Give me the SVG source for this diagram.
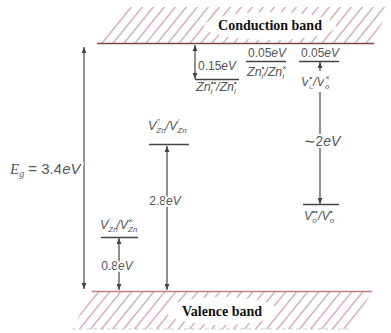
<svg xmlns="http://www.w3.org/2000/svg" width="391" height="333" viewBox="0 0 391 333">
<style>
.lvl{stroke:#444;stroke-width:1.3;fill:none}
.arr{stroke:#444;stroke-width:1.2;fill:none}
.lab{font-family:'Liberation Sans',sans-serif;font-size:12px;fill:#555}
.chem{font-family:'Liberation Sans',sans-serif;font-size:12.5px;fill:#555;font-style:italic}
.ko{paint-order:stroke;stroke:#fff;stroke-width:4px;stroke-linejoin:round}
.band{font-family:'Liberation Serif',serif;font-weight:bold;font-size:14px;fill:#111}
.s{font-size:8px}
</style>
<defs>
<pattern id="hatch" patternUnits="userSpaceOnUse" width="11" height="10" patternTransform="skewX(-39)">
<line x1="5" y1="0" x2="5" y2="10" stroke="#b05858" stroke-width="0.9"/>
</pattern>
<marker id="ah" viewBox="0 0 10 10" refX="10" refY="5" markerUnits="userSpaceOnUse" markerWidth="6" markerHeight="6" orient="auto-start-reverse">
<path d="M0,1 L10,5 L0,9 z" fill="#444"/>
</marker>
</defs>
<rect width="391" height="333" fill="#fff"/>

<g id="conduction-band">
<polygon points="100,43 372,43 390,7 130,7" fill="url(#hatch)"/>
<ellipse cx="270" cy="26" rx="66" ry="14" fill="#fff"/>
<line x1="97" y1="43.5" x2="374" y2="43.5" stroke="#7a4a4a" stroke-width="1.5"/>
<text class="band" x="270" y="30" text-anchor="middle">Conduction band</text>
</g>

<g id="valence-band">
<polygon points="92,292 372,292 350,329 72,329" fill="url(#hatch)"/>
<ellipse cx="222" cy="311" rx="56" ry="14" fill="#fff"/>
<line x1="72" y1="329" x2="350" y2="329" stroke="#ccc" stroke-width="1" stroke-dasharray="4,3"/>
<line x1="92" y1="291.5" x2="372" y2="291.5" stroke="#c08080" stroke-width="1.5"/>
<text class="band" x="222" y="316" text-anchor="middle">Valence band</text>
</g>

<g id="connectors">
<line class="arr" x1="84" y1="47" x2="84" y2="289" marker-start="url(#ah)" marker-end="url(#ah)"/>
<line class="arr" x1="195" y1="45" x2="195" y2="79" marker-start="url(#ah)" marker-end="url(#ah)"/>
<line class="arr" x1="167" y1="146" x2="167" y2="290" marker-start="url(#ah)" marker-end="url(#ah)"/>
<line class="arr" x1="119" y1="238" x2="119" y2="290" marker-start="url(#ah)" marker-end="url(#ah)"/>
<line class="arr" x1="320" y1="71" x2="320" y2="62" marker-end="url(#ah)"/>
<line class="arr" x1="320" y1="92" x2="320" y2="204" marker-end="url(#ah)"/>
</g>

<g id="eg-label">
<text class="lab ko" x="10" y="174" style="font-size:15px"><tspan font-family="'Liberation Serif',serif" font-style="italic">E</tspan><tspan font-family="'Liberation Serif',serif" font-style="italic" font-size="10" dy="3">g</tspan><tspan dy="-3"> = 3.4</tspan><tspan font-style="italic">eV</tspan></text>
</g>

<g id="zni-2plus">
<line class="lvl" x1="195" y1="79.5" x2="239" y2="79.5"/>
<text class="lab" x="198" y="70">0.15<tspan font-style="italic">eV</tspan></text>
<text class="chem" x="196" y="91">Zn<tspan class="s" dy="2.5">i</tspan><tspan class="s" dx="-2" dy="-8.5">••</tspan><tspan dy="6">/Zn</tspan><tspan class="s" dy="2.5">i</tspan><tspan class="s" dx="-2" dy="-8.5">•</tspan></text>
</g>

<g id="zni-plus">
<line class="lvl" x1="246" y1="61.5" x2="286" y2="61.5"/>
<text class="lab" x="248" y="57">0.05<tspan font-style="italic">eV</tspan></text>
<text class="chem" x="247" y="76">Zn<tspan class="s" dy="2.5">i</tspan><tspan class="s" dx="-2" dy="-8.5">•</tspan><tspan dy="6">/Zn</tspan><tspan class="s" dy="2.5">i</tspan><tspan class="s" dx="-2" dy="-8.5">×</tspan></text>
</g>

<g id="vo-plus">
<line class="lvl" x1="299" y1="61.5" x2="339" y2="61.5"/>
<text class="lab" x="301" y="57">0.05<tspan font-style="italic">eV</tspan></text>
<text class="chem ko" x="301" y="86">V<tspan class="s" dy="2.5">o</tspan><tspan class="s" dx="-4.5" dy="-8.5">•</tspan><tspan dx="1" dy="6">/V</tspan><tspan class="s" dy="2.5">o</tspan><tspan class="s" dx="-4.5" dy="-8.5">×</tspan></text>
</g>

<g id="vo-2plus">
<text class="lab ko" x="322" y="146" text-anchor="middle" style="font-size:14px">∼2<tspan font-style="italic">eV</tspan></text>
<line class="lvl" x1="303" y1="204.5" x2="339" y2="204.5"/>
<text class="chem" x="304" y="220">V<tspan class="s" dy="2.5">o</tspan><tspan class="s" dx="-4.5" dy="-8.5">••</tspan><tspan dy="6">/V</tspan><tspan class="s" dy="2.5">o</tspan><tspan class="s" dx="-4.5" dy="-8.5">•</tspan></text>
</g>

<g id="vzn-2minus">
<text class="chem" x="148" y="130">V<tspan class="s" dy="2.5">Zn</tspan><tspan class="s" dx="-9" dy="-8.5">″</tspan><tspan dx="6" dy="6">/V</tspan><tspan class="s" dy="2.5">Zn</tspan><tspan class="s" dx="-9" dy="-8.5">′</tspan></text>
<line class="lvl" x1="149" y1="144.5" x2="189" y2="144.5"/>
<text class="lab ko" x="165" y="205" text-anchor="middle">2.8<tspan font-style="italic">eV</tspan></text>
</g>

<g id="vzn-minus">
<text class="chem" x="100" y="229">V<tspan class="s" dy="2.5">Zn</tspan><tspan class="s" dx="-9" dy="-8.5">′</tspan><tspan dx="6" dy="6">/V</tspan><tspan class="s" dy="2.5">Zn</tspan><tspan class="s" dx="-9" dy="-8.5">×</tspan></text>
<line class="lvl" x1="101" y1="237.5" x2="138" y2="237.5"/>
<text class="lab ko" x="117" y="270" text-anchor="middle">0.8<tspan font-style="italic">eV</tspan></text>
</g>
</svg>
